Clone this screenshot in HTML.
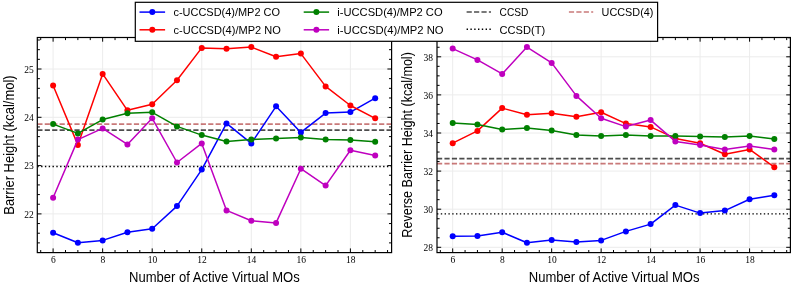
<!DOCTYPE html><html><head><meta charset="utf-8"><style>
html,body{margin:0;padding:0;background:#fff;width:793px;height:287px;overflow:hidden}
svg{position:absolute;left:0;top:0;will-change:transform}
.tk{font-family:"Liberation Serif",serif;font-size:10.6px;fill:#000}
.lab{font-family:"Liberation Sans",sans-serif;font-size:14.1px;fill:#000}
.lg{font-family:"Liberation Sans",sans-serif;font-size:11.3px;fill:#000}
</style></head><body>
<svg x="0" y="0" width="793" height="287"><g transform="translate(0.3 0.3)">
<defs><clipPath id="c37"><rect x="37.0" y="37.2" width="354.3" height="215.10000000000002"/></clipPath></defs>
<path d="M52.80 37.2V252.3M102.35 37.2V252.3M151.90 37.2V252.3M201.45 37.2V252.3M251.00 37.2V252.3M300.55 37.2V252.3M350.10 37.2V252.3M37.0 213.60H391.3M37.0 165.30H391.3M37.0 117.00H391.3M37.0 68.70H391.3" stroke="#ececec" stroke-width="1.0" fill="none"/>
<path d="M37.0 123.9H391.3" stroke="rgba(165,32,32,0.6)" stroke-width="1.7" stroke-dasharray="5.19 2.24" fill="none" clip-path="url(#c37)"/>
<path d="M37.0 129.8H391.3" stroke="rgba(0,0,0,0.7)" stroke-width="1.7" stroke-dasharray="5.19 2.24" fill="none" clip-path="url(#c37)"/>
<path d="M37.0 166.2H391.3" stroke="#000000" stroke-width="1.4" stroke-dasharray="1.4 2.4" fill="none" clip-path="url(#c37)"/>
<polyline points="52.80,232.40 77.57,242.40 102.35,240.10 127.12,231.90 151.90,228.40 176.68,205.80 201.45,169.30 226.22,123.10 251.00,143.10 275.77,106.00 300.55,132.10 325.32,112.80 350.10,111.80 374.88,97.90" stroke="#0000ff" stroke-width="1.5" fill="none" stroke-linejoin="round"/>
<circle cx="52.80" cy="232.40" r="3.0" fill="#0000ff"/>
<circle cx="77.57" cy="242.40" r="3.0" fill="#0000ff"/>
<circle cx="102.35" cy="240.10" r="3.0" fill="#0000ff"/>
<circle cx="127.12" cy="231.90" r="3.0" fill="#0000ff"/>
<circle cx="151.90" cy="228.40" r="3.0" fill="#0000ff"/>
<circle cx="176.68" cy="205.80" r="3.0" fill="#0000ff"/>
<circle cx="201.45" cy="169.30" r="3.0" fill="#0000ff"/>
<circle cx="226.22" cy="123.10" r="3.0" fill="#0000ff"/>
<circle cx="251.00" cy="143.10" r="3.0" fill="#0000ff"/>
<circle cx="275.77" cy="106.00" r="3.0" fill="#0000ff"/>
<circle cx="300.55" cy="132.10" r="3.0" fill="#0000ff"/>
<circle cx="325.32" cy="112.80" r="3.0" fill="#0000ff"/>
<circle cx="350.10" cy="111.80" r="3.0" fill="#0000ff"/>
<circle cx="374.88" cy="97.90" r="3.0" fill="#0000ff"/>
<polyline points="52.80,85.20 77.57,144.60 102.35,73.60 127.12,110.00 151.90,104.00 176.68,79.90 201.45,47.60 226.22,48.50 251.00,46.80 275.77,56.50 300.55,53.30 325.32,86.10 350.10,105.20 374.88,118.00" stroke="#ff0000" stroke-width="1.5" fill="none" stroke-linejoin="round"/>
<circle cx="52.80" cy="85.20" r="3.0" fill="#ff0000"/>
<circle cx="77.57" cy="144.60" r="3.0" fill="#ff0000"/>
<circle cx="102.35" cy="73.60" r="3.0" fill="#ff0000"/>
<circle cx="127.12" cy="110.00" r="3.0" fill="#ff0000"/>
<circle cx="151.90" cy="104.00" r="3.0" fill="#ff0000"/>
<circle cx="176.68" cy="79.90" r="3.0" fill="#ff0000"/>
<circle cx="201.45" cy="47.60" r="3.0" fill="#ff0000"/>
<circle cx="226.22" cy="48.50" r="3.0" fill="#ff0000"/>
<circle cx="251.00" cy="46.80" r="3.0" fill="#ff0000"/>
<circle cx="275.77" cy="56.50" r="3.0" fill="#ff0000"/>
<circle cx="300.55" cy="53.30" r="3.0" fill="#ff0000"/>
<circle cx="325.32" cy="86.10" r="3.0" fill="#ff0000"/>
<circle cx="350.10" cy="105.20" r="3.0" fill="#ff0000"/>
<circle cx="374.88" cy="118.00" r="3.0" fill="#ff0000"/>
<polyline points="52.80,123.80 77.57,133.10 102.35,119.30 127.12,113.00 151.90,112.00 176.68,126.10 201.45,134.80 226.22,141.10 251.00,139.30 275.77,138.10 300.55,137.10 325.32,139.30 350.10,139.80 374.88,141.40" stroke="#008000" stroke-width="1.5" fill="none" stroke-linejoin="round"/>
<circle cx="52.80" cy="123.80" r="3.0" fill="#008000"/>
<circle cx="77.57" cy="133.10" r="3.0" fill="#008000"/>
<circle cx="102.35" cy="119.30" r="3.0" fill="#008000"/>
<circle cx="127.12" cy="113.00" r="3.0" fill="#008000"/>
<circle cx="151.90" cy="112.00" r="3.0" fill="#008000"/>
<circle cx="176.68" cy="126.10" r="3.0" fill="#008000"/>
<circle cx="201.45" cy="134.80" r="3.0" fill="#008000"/>
<circle cx="226.22" cy="141.10" r="3.0" fill="#008000"/>
<circle cx="251.00" cy="139.30" r="3.0" fill="#008000"/>
<circle cx="275.77" cy="138.10" r="3.0" fill="#008000"/>
<circle cx="300.55" cy="137.10" r="3.0" fill="#008000"/>
<circle cx="325.32" cy="139.30" r="3.0" fill="#008000"/>
<circle cx="350.10" cy="139.80" r="3.0" fill="#008000"/>
<circle cx="374.88" cy="141.40" r="3.0" fill="#008000"/>
<polyline points="52.80,197.50 77.57,139.30 102.35,128.10 127.12,144.10 151.90,118.00 176.68,162.20 201.45,143.10 226.22,210.10 251.00,220.40 275.77,222.60 300.55,168.40 325.32,185.30 350.10,149.90 374.88,155.10" stroke="#bf00bf" stroke-width="1.5" fill="none" stroke-linejoin="round"/>
<circle cx="52.80" cy="197.50" r="3.0" fill="#bf00bf"/>
<circle cx="77.57" cy="139.30" r="3.0" fill="#bf00bf"/>
<circle cx="102.35" cy="128.10" r="3.0" fill="#bf00bf"/>
<circle cx="127.12" cy="144.10" r="3.0" fill="#bf00bf"/>
<circle cx="151.90" cy="118.00" r="3.0" fill="#bf00bf"/>
<circle cx="176.68" cy="162.20" r="3.0" fill="#bf00bf"/>
<circle cx="201.45" cy="143.10" r="3.0" fill="#bf00bf"/>
<circle cx="226.22" cy="210.10" r="3.0" fill="#bf00bf"/>
<circle cx="251.00" cy="220.40" r="3.0" fill="#bf00bf"/>
<circle cx="275.77" cy="222.60" r="3.0" fill="#bf00bf"/>
<circle cx="300.55" cy="168.40" r="3.0" fill="#bf00bf"/>
<circle cx="325.32" cy="185.30" r="3.0" fill="#bf00bf"/>
<circle cx="350.10" cy="149.90" r="3.0" fill="#bf00bf"/>
<circle cx="374.88" cy="155.10" r="3.0" fill="#bf00bf"/>
<path d="M40.41 252.3v-2.6M40.41 37.2v2.6M52.80 252.3v-4.2M52.80 37.2v4.2M65.19 252.3v-2.6M65.19 37.2v2.6M77.57 252.3v-2.6M77.57 37.2v2.6M89.96 252.3v-2.6M89.96 37.2v2.6M102.35 252.3v-4.2M102.35 37.2v4.2M114.74 252.3v-2.6M114.74 37.2v2.6M127.12 252.3v-2.6M127.12 37.2v2.6M139.51 252.3v-2.6M139.51 37.2v2.6M151.90 252.3v-4.2M151.90 37.2v4.2M164.29 252.3v-2.6M164.29 37.2v2.6M176.68 252.3v-2.6M176.68 37.2v2.6M189.06 252.3v-2.6M189.06 37.2v2.6M201.45 252.3v-4.2M201.45 37.2v4.2M213.84 252.3v-2.6M213.84 37.2v2.6M226.22 252.3v-2.6M226.22 37.2v2.6M238.61 252.3v-2.6M238.61 37.2v2.6M251.00 252.3v-4.2M251.00 37.2v4.2M263.39 252.3v-2.6M263.39 37.2v2.6M275.77 252.3v-2.6M275.77 37.2v2.6M288.16 252.3v-2.6M288.16 37.2v2.6M300.55 252.3v-4.2M300.55 37.2v4.2M312.94 252.3v-2.6M312.94 37.2v2.6M325.32 252.3v-2.6M325.32 37.2v2.6M337.71 252.3v-2.6M337.71 37.2v2.6M350.10 252.3v-4.2M350.10 37.2v4.2M362.49 252.3v-2.6M362.49 37.2v2.6M374.88 252.3v-2.6M374.88 37.2v2.6M387.26 252.3v-2.6M387.26 37.2v2.6M37.0 252.24h2.6M391.3 252.24h-2.6M37.0 242.58h2.6M391.3 242.58h-2.6M37.0 232.92h2.6M391.3 232.92h-2.6M37.0 223.26h2.6M391.3 223.26h-2.6M37.0 213.60h4.2M391.3 213.60h-4.2M37.0 203.94h2.6M391.3 203.94h-2.6M37.0 194.28h2.6M391.3 194.28h-2.6M37.0 184.62h2.6M391.3 184.62h-2.6M37.0 174.96h2.6M391.3 174.96h-2.6M37.0 165.30h4.2M391.3 165.30h-4.2M37.0 155.64h2.6M391.3 155.64h-2.6M37.0 145.98h2.6M391.3 145.98h-2.6M37.0 136.32h2.6M391.3 136.32h-2.6M37.0 126.66h2.6M391.3 126.66h-2.6M37.0 117.00h4.2M391.3 117.00h-4.2M37.0 107.34h2.6M391.3 107.34h-2.6M37.0 97.68h2.6M391.3 97.68h-2.6M37.0 88.02h2.6M391.3 88.02h-2.6M37.0 78.36h2.6M391.3 78.36h-2.6M37.0 68.70h4.2M391.3 68.70h-4.2M37.0 59.04h2.6M391.3 59.04h-2.6M37.0 49.38h2.6M391.3 49.38h-2.6M37.0 39.72h2.6M391.3 39.72h-2.6" stroke="#000" stroke-width="1.0" fill="none"/>
<rect x="37.0" y="37.2" width="354.3" height="215.10000000000002" stroke="#000" stroke-width="1.2" fill="none"/>
<text x="53.10" y="263.1" text-anchor="middle" class="tk" textLength="4.75" lengthAdjust="spacingAndGlyphs">6</text>
<text x="102.65" y="263.1" text-anchor="middle" class="tk" textLength="4.75" lengthAdjust="spacingAndGlyphs">8</text>
<text x="152.20" y="263.1" text-anchor="middle" class="tk" textLength="9.5" lengthAdjust="spacingAndGlyphs">10</text>
<text x="201.75" y="263.1" text-anchor="middle" class="tk" textLength="9.5" lengthAdjust="spacingAndGlyphs">12</text>
<text x="251.30" y="263.1" text-anchor="middle" class="tk" textLength="9.5" lengthAdjust="spacingAndGlyphs">14</text>
<text x="300.85" y="263.1" text-anchor="middle" class="tk" textLength="9.5" lengthAdjust="spacingAndGlyphs">16</text>
<text x="350.40" y="263.1" text-anchor="middle" class="tk" textLength="9.5" lengthAdjust="spacingAndGlyphs">18</text>
<text x="33.50" y="217.50" text-anchor="end" class="tk" textLength="9.5" lengthAdjust="spacingAndGlyphs">22</text>
<text x="33.50" y="169.20" text-anchor="end" class="tk" textLength="9.5" lengthAdjust="spacingAndGlyphs">23</text>
<text x="33.50" y="120.90" text-anchor="end" class="tk" textLength="9.5" lengthAdjust="spacingAndGlyphs">24</text>
<text x="33.50" y="72.60" text-anchor="end" class="tk" textLength="9.5" lengthAdjust="spacingAndGlyphs">25</text>
</g></svg>
<svg x="0" y="0" width="793" height="287"><g transform="translate(0.3 0.3)">
<defs><clipPath id="c436"><rect x="436.7" y="37.2" width="353.40000000000003" height="215.10000000000002"/></clipPath></defs>
<path d="M452.40 37.2V252.3M501.88 37.2V252.3M551.36 37.2V252.3M600.84 37.2V252.3M650.32 37.2V252.3M699.80 37.2V252.3M749.28 37.2V252.3M436.7 247.00H790.1M436.7 208.90H790.1M436.7 170.80H790.1M436.7 132.70H790.1M436.7 94.60H790.1M436.7 56.50H790.1" stroke="#ececec" stroke-width="1.0" fill="none"/>
<path d="M436.7 163.4H790.1" stroke="rgba(165,32,32,0.6)" stroke-width="1.7" stroke-dasharray="5.19 2.24" fill="none" clip-path="url(#c436)"/>
<path d="M436.7 158.4H790.1" stroke="rgba(0,0,0,0.7)" stroke-width="1.7" stroke-dasharray="5.19 2.24" fill="none" clip-path="url(#c436)"/>
<path d="M436.7 213.6H790.1" stroke="#000000" stroke-width="1.4" stroke-dasharray="1.4 2.4" fill="none" clip-path="url(#c436)"/>
<polyline points="452.40,235.90 477.14,235.60 501.88,231.90 526.62,242.40 551.36,239.60 576.10,241.60 600.84,240.10 625.58,231.10 650.32,223.80 675.06,204.80 699.80,212.80 724.54,210.30 749.28,199.00 774.02,195.00" stroke="#0000ff" stroke-width="1.5" fill="none" stroke-linejoin="round"/>
<circle cx="452.40" cy="235.90" r="3.0" fill="#0000ff"/>
<circle cx="477.14" cy="235.60" r="3.0" fill="#0000ff"/>
<circle cx="501.88" cy="231.90" r="3.0" fill="#0000ff"/>
<circle cx="526.62" cy="242.40" r="3.0" fill="#0000ff"/>
<circle cx="551.36" cy="239.60" r="3.0" fill="#0000ff"/>
<circle cx="576.10" cy="241.60" r="3.0" fill="#0000ff"/>
<circle cx="600.84" cy="240.10" r="3.0" fill="#0000ff"/>
<circle cx="625.58" cy="231.10" r="3.0" fill="#0000ff"/>
<circle cx="650.32" cy="223.80" r="3.0" fill="#0000ff"/>
<circle cx="675.06" cy="204.80" r="3.0" fill="#0000ff"/>
<circle cx="699.80" cy="212.80" r="3.0" fill="#0000ff"/>
<circle cx="724.54" cy="210.30" r="3.0" fill="#0000ff"/>
<circle cx="749.28" cy="199.00" r="3.0" fill="#0000ff"/>
<circle cx="774.02" cy="195.00" r="3.0" fill="#0000ff"/>
<polyline points="452.40,142.90 477.14,130.60 501.88,107.80 526.62,114.50 551.36,113.00 576.10,116.50 600.84,112.00 625.58,123.30 650.32,126.60 675.06,138.10 699.80,142.90 724.54,153.90 749.28,149.10 774.02,166.90" stroke="#ff0000" stroke-width="1.5" fill="none" stroke-linejoin="round"/>
<circle cx="452.40" cy="142.90" r="3.0" fill="#ff0000"/>
<circle cx="477.14" cy="130.60" r="3.0" fill="#ff0000"/>
<circle cx="501.88" cy="107.80" r="3.0" fill="#ff0000"/>
<circle cx="526.62" cy="114.50" r="3.0" fill="#ff0000"/>
<circle cx="551.36" cy="113.00" r="3.0" fill="#ff0000"/>
<circle cx="576.10" cy="116.50" r="3.0" fill="#ff0000"/>
<circle cx="600.84" cy="112.00" r="3.0" fill="#ff0000"/>
<circle cx="625.58" cy="123.30" r="3.0" fill="#ff0000"/>
<circle cx="650.32" cy="126.60" r="3.0" fill="#ff0000"/>
<circle cx="675.06" cy="138.10" r="3.0" fill="#ff0000"/>
<circle cx="699.80" cy="142.90" r="3.0" fill="#ff0000"/>
<circle cx="724.54" cy="153.90" r="3.0" fill="#ff0000"/>
<circle cx="749.28" cy="149.10" r="3.0" fill="#ff0000"/>
<circle cx="774.02" cy="166.90" r="3.0" fill="#ff0000"/>
<polyline points="452.40,122.60 477.14,124.30 501.88,129.30 526.62,127.80 551.36,130.30 576.10,134.60 600.84,135.80 625.58,134.60 650.32,135.60 675.06,135.60 699.80,136.10 724.54,136.60 749.28,135.80 774.02,138.80" stroke="#008000" stroke-width="1.5" fill="none" stroke-linejoin="round"/>
<circle cx="452.40" cy="122.60" r="3.0" fill="#008000"/>
<circle cx="477.14" cy="124.30" r="3.0" fill="#008000"/>
<circle cx="501.88" cy="129.30" r="3.0" fill="#008000"/>
<circle cx="526.62" cy="127.80" r="3.0" fill="#008000"/>
<circle cx="551.36" cy="130.30" r="3.0" fill="#008000"/>
<circle cx="576.10" cy="134.60" r="3.0" fill="#008000"/>
<circle cx="600.84" cy="135.80" r="3.0" fill="#008000"/>
<circle cx="625.58" cy="134.60" r="3.0" fill="#008000"/>
<circle cx="650.32" cy="135.60" r="3.0" fill="#008000"/>
<circle cx="675.06" cy="135.60" r="3.0" fill="#008000"/>
<circle cx="699.80" cy="136.10" r="3.0" fill="#008000"/>
<circle cx="724.54" cy="136.60" r="3.0" fill="#008000"/>
<circle cx="749.28" cy="135.80" r="3.0" fill="#008000"/>
<circle cx="774.02" cy="138.80" r="3.0" fill="#008000"/>
<polyline points="452.40,48.30 477.14,59.60 501.88,73.60 526.62,46.80 551.36,62.60 576.10,95.60 600.84,118.00 625.58,126.30 650.32,119.80 675.06,141.10 699.80,144.60 724.54,149.10 749.28,145.60 774.02,149.10" stroke="#bf00bf" stroke-width="1.5" fill="none" stroke-linejoin="round"/>
<circle cx="452.40" cy="48.30" r="3.0" fill="#bf00bf"/>
<circle cx="477.14" cy="59.60" r="3.0" fill="#bf00bf"/>
<circle cx="501.88" cy="73.60" r="3.0" fill="#bf00bf"/>
<circle cx="526.62" cy="46.80" r="3.0" fill="#bf00bf"/>
<circle cx="551.36" cy="62.60" r="3.0" fill="#bf00bf"/>
<circle cx="576.10" cy="95.60" r="3.0" fill="#bf00bf"/>
<circle cx="600.84" cy="118.00" r="3.0" fill="#bf00bf"/>
<circle cx="625.58" cy="126.30" r="3.0" fill="#bf00bf"/>
<circle cx="650.32" cy="119.80" r="3.0" fill="#bf00bf"/>
<circle cx="675.06" cy="141.10" r="3.0" fill="#bf00bf"/>
<circle cx="699.80" cy="144.60" r="3.0" fill="#bf00bf"/>
<circle cx="724.54" cy="149.10" r="3.0" fill="#bf00bf"/>
<circle cx="749.28" cy="145.60" r="3.0" fill="#bf00bf"/>
<circle cx="774.02" cy="149.10" r="3.0" fill="#bf00bf"/>
<path d="M440.03 252.3v-2.6M440.03 37.2v2.6M452.40 252.3v-4.2M452.40 37.2v4.2M464.77 252.3v-2.6M464.77 37.2v2.6M477.14 252.3v-2.6M477.14 37.2v2.6M489.51 252.3v-2.6M489.51 37.2v2.6M501.88 252.3v-4.2M501.88 37.2v4.2M514.25 252.3v-2.6M514.25 37.2v2.6M526.62 252.3v-2.6M526.62 37.2v2.6M538.99 252.3v-2.6M538.99 37.2v2.6M551.36 252.3v-4.2M551.36 37.2v4.2M563.73 252.3v-2.6M563.73 37.2v2.6M576.10 252.3v-2.6M576.10 37.2v2.6M588.47 252.3v-2.6M588.47 37.2v2.6M600.84 252.3v-4.2M600.84 37.2v4.2M613.21 252.3v-2.6M613.21 37.2v2.6M625.58 252.3v-2.6M625.58 37.2v2.6M637.95 252.3v-2.6M637.95 37.2v2.6M650.32 252.3v-4.2M650.32 37.2v4.2M662.69 252.3v-2.6M662.69 37.2v2.6M675.06 252.3v-2.6M675.06 37.2v2.6M687.43 252.3v-2.6M687.43 37.2v2.6M699.80 252.3v-4.2M699.80 37.2v4.2M712.17 252.3v-2.6M712.17 37.2v2.6M724.54 252.3v-2.6M724.54 37.2v2.6M736.91 252.3v-2.6M736.91 37.2v2.6M749.28 252.3v-4.2M749.28 37.2v4.2M761.65 252.3v-2.6M761.65 37.2v2.6M774.02 252.3v-2.6M774.02 37.2v2.6M786.39 252.3v-2.6M786.39 37.2v2.6M436.7 247.00h4.2M790.1 247.00h-4.2M436.7 237.47h2.6M790.1 237.47h-2.6M436.7 227.95h2.6M790.1 227.95h-2.6M436.7 218.43h2.6M790.1 218.43h-2.6M436.7 208.90h4.2M790.1 208.90h-4.2M436.7 199.38h2.6M790.1 199.38h-2.6M436.7 189.85h2.6M790.1 189.85h-2.6M436.7 180.32h2.6M790.1 180.32h-2.6M436.7 170.80h4.2M790.1 170.80h-4.2M436.7 161.27h2.6M790.1 161.27h-2.6M436.7 151.75h2.6M790.1 151.75h-2.6M436.7 142.22h2.6M790.1 142.22h-2.6M436.7 132.70h4.2M790.1 132.70h-4.2M436.7 123.17h2.6M790.1 123.17h-2.6M436.7 113.65h2.6M790.1 113.65h-2.6M436.7 104.12h2.6M790.1 104.12h-2.6M436.7 94.60h4.2M790.1 94.60h-4.2M436.7 85.07h2.6M790.1 85.07h-2.6M436.7 75.55h2.6M790.1 75.55h-2.6M436.7 66.03h2.6M790.1 66.03h-2.6M436.7 56.50h4.2M790.1 56.50h-4.2M436.7 46.97h2.6M790.1 46.97h-2.6M436.7 37.45h2.6M790.1 37.45h-2.6" stroke="#000" stroke-width="1.0" fill="none"/>
<rect x="436.7" y="37.2" width="353.40000000000003" height="215.10000000000002" stroke="#000" stroke-width="1.2" fill="none"/>
<text x="452.70" y="263.1" text-anchor="middle" class="tk" textLength="4.75" lengthAdjust="spacingAndGlyphs">6</text>
<text x="502.18" y="263.1" text-anchor="middle" class="tk" textLength="4.75" lengthAdjust="spacingAndGlyphs">8</text>
<text x="551.66" y="263.1" text-anchor="middle" class="tk" textLength="9.5" lengthAdjust="spacingAndGlyphs">10</text>
<text x="601.14" y="263.1" text-anchor="middle" class="tk" textLength="9.5" lengthAdjust="spacingAndGlyphs">12</text>
<text x="650.62" y="263.1" text-anchor="middle" class="tk" textLength="9.5" lengthAdjust="spacingAndGlyphs">14</text>
<text x="700.10" y="263.1" text-anchor="middle" class="tk" textLength="9.5" lengthAdjust="spacingAndGlyphs">16</text>
<text x="749.58" y="263.1" text-anchor="middle" class="tk" textLength="9.5" lengthAdjust="spacingAndGlyphs">18</text>
<text x="432.80" y="250.90" text-anchor="end" class="tk" textLength="9.5" lengthAdjust="spacingAndGlyphs">28</text>
<text x="432.80" y="212.80" text-anchor="end" class="tk" textLength="9.5" lengthAdjust="spacingAndGlyphs">30</text>
<text x="432.80" y="174.70" text-anchor="end" class="tk" textLength="9.5" lengthAdjust="spacingAndGlyphs">32</text>
<text x="432.80" y="136.60" text-anchor="end" class="tk" textLength="9.5" lengthAdjust="spacingAndGlyphs">34</text>
<text x="432.80" y="98.50" text-anchor="end" class="tk" textLength="9.5" lengthAdjust="spacingAndGlyphs">36</text>
<text x="432.80" y="60.40" text-anchor="end" class="tk" textLength="9.5" lengthAdjust="spacingAndGlyphs">38</text>
</g></svg>
<svg width="793" height="287"><g transform="translate(0.3 0.3)">
<text x="214.1" y="281.8" text-anchor="middle" class="lab" id="xl1" textLength="170.7" lengthAdjust="spacingAndGlyphs">Number of Active Virtual MOs</text>
<text x="613.8" y="281.8" text-anchor="middle" class="lab" id="xl2" textLength="170.7" lengthAdjust="spacingAndGlyphs">Number of Active Virtual MOs</text>
<text transform="translate(13.2 144.8) rotate(-90)" text-anchor="middle" class="lab" id="yl1" textLength="139.3" lengthAdjust="spacingAndGlyphs">Barrier Height (kcal/mol)</text>
<text transform="translate(411.6 144.6) rotate(-90)" text-anchor="middle" class="lab" id="yl2" textLength="185.5" lengthAdjust="spacingAndGlyphs">Reverse Barrier Height (kcal/mol)</text>
<g transform="translate(-0.3 -0.3)">
<rect x="135.3" y="2.3" width="522.3" height="39" fill="#fff" stroke="#000" stroke-width="1.2"/>
<path d="M139.5 12.1H165.1" stroke="#0000ff" stroke-width="1.5" fill="none"/>
<circle cx="152.3" cy="12.1" r="3.0" fill="#0000ff"/>
<text x="173.5" y="16.0" class="lg" textLength="106.5" lengthAdjust="spacingAndGlyphs">c-UCCSD(4)/MP2 CO</text>
<path d="M139.5 29.8H165.1" stroke="#ff0000" stroke-width="1.5" fill="none"/>
<circle cx="152.3" cy="29.8" r="3.0" fill="#ff0000"/>
<text x="173.5" y="33.8" class="lg" textLength="107.3" lengthAdjust="spacingAndGlyphs">c-UCCSD(4)/MP2 NO</text>
<path d="M303.7 12.1H329.1" stroke="#008000" stroke-width="1.5" fill="none"/>
<circle cx="316.4" cy="12.1" r="3.0" fill="#008000"/>
<text x="337.3" y="16.0" class="lg" textLength="105.3" lengthAdjust="spacingAndGlyphs">i-UCCSD(4)/MP2 CO</text>
<path d="M303.7 29.8H329.1" stroke="#bf00bf" stroke-width="1.5" fill="none"/>
<circle cx="316.4" cy="29.8" r="3.0" fill="#bf00bf"/>
<text x="337.3" y="33.8" class="lg" textLength="106.3" lengthAdjust="spacingAndGlyphs">i-UCCSD(4)/MP2 NO</text>
<path d="M466.6 12.1H491.0" stroke="rgba(0,0,0,0.7)" stroke-width="1.5" stroke-dasharray="5.19 2.24" fill="none"/>
<text x="499.6" y="16.0" class="lg" textLength="28.7" lengthAdjust="spacingAndGlyphs">CCSD</text>
<path d="M466.6 29.2H491.0" stroke="#000000" stroke-width="1.4" stroke-dasharray="1.4 2.4" fill="none"/>
<text x="499.6" y="33.8" class="lg" textLength="45.5" lengthAdjust="spacingAndGlyphs">CCSD(T)</text>
<path d="M568.9 12.1H593.2" stroke="rgba(165,32,32,0.6)" stroke-width="1.5" stroke-dasharray="5.19 2.24" fill="none"/>
<text x="601.6" y="16.0" class="lg" textLength="51.8" lengthAdjust="spacingAndGlyphs">UCCSD(4)</text>
</g>
</g></svg>
</body></html>
